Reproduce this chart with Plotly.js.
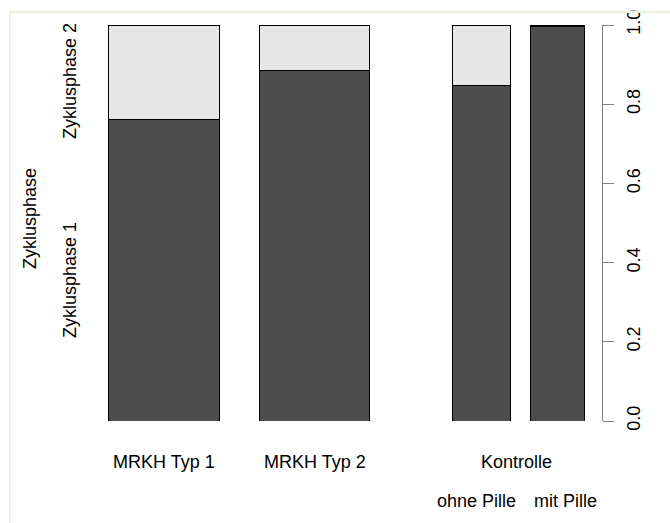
<!DOCTYPE html>
<html>
<head>
<meta charset="utf-8">
<script src="https://cdn.plot.ly/plotly-3.0.1.min.js"></script>
<style>
html,body{margin:0;padding:0;background:#fff;}
#chart{width:670px;height:523px;}
</style>
</head>
<body>
<div id="chart"></div>
<script>
// Data
const groups = ["MRKH Typ 1", "MRKH Typ 2", "ohne Pille", "mit Pille"];
const phase1 = [0.762, 0.884, 0.848, 0.997];   // Zyklusphase 1 share
const phase2 = phase1.map(v => +(1 - v).toFixed(3)); // Zyklusphase 2 share (remainder)
const yTicks = [0, 0.2, 0.4, 0.6, 0.8, 1.0];
const yTickText = ["0.0", "0.2", "0.4", "0.6", "0.8", "1.0"];

// Layout (bar placement in pixel-like x units)
const barCenters = [163.5, 314.5, 481, 557];
const barWidths = [111, 110, 58, 54];

const font = {family: "Liberation Sans, Arial, sans-serif", size: 18, color: "#000"};

const traces = [
  {type: "bar", x: barCenters, y: phase1, width: barWidths, name: "Zyklusphase 1",
   marker: {color: "#4d4d4d", line: {color: "#000", width: 1}}, hoverinfo: "skip"},
  {type: "bar", x: barCenters, y: phase2, width: barWidths, name: "Zyklusphase 2",
   marker: {color: "#e6e6e6", line: {color: "#000", width: 1}}, hoverinfo: "skip"}
];

const H = 523, T = 25, B = 102, PH = H - T - B;
function py(px) { return (H - B - px) / PH; }

const layout = {
  width: 670, height: 523,
  margin: {l: 0, r: 0, t: T, b: B, pad: 0},
  paper_bgcolor: "#fff", plot_bgcolor: "#fff",
  barmode: "stack", showlegend: false,
  font: font,
  xaxis: {range: [0, 670], visible: false, fixedrange: true},
  yaxis: {range: [0, 1], side: "right", anchor: "free", position: 602/670,
    tickvals: yTicks, ticktext: yTickText, tickangle: -90,
    ticks: "outside", ticklen: 11, tickcolor: "#7f7f7f", tickwidth: 1,
    showline: true, linecolor: "#7f7f7f", linewidth: 1,
    showgrid: false, zeroline: false, tickfont: font, ticklabelstandoff: 4},
  annotations: [
    {text: "Zyklusphase 2", xref: "x", yref: "paper", x: 70, y: py(81), textangle: -90, showarrow: false, font: font, xanchor: "center", yanchor: "middle"},
    {text: "Zyklusphase 1", xref: "x", yref: "paper", x: 70, y: py(280), textangle: -90, showarrow: false, font: font, xanchor: "center", yanchor: "middle"},
    {text: "Zyklusphase", xref: "x", yref: "paper", x: 30, y: py(219), textangle: -90, showarrow: false, font: font, xanchor: "center", yanchor: "middle"},
    {text: groups[0], xref: "x", yref: "paper", x: barCenters[0], y: py(462), showarrow: false, font: font, yanchor: "middle"},
    {text: groups[1], xref: "x", yref: "paper", x: barCenters[1], y: py(462), showarrow: false, font: font, yanchor: "middle"},
    {text: "Kontrolle", xref: "x", yref: "paper", x: 516, y: py(462), showarrow: false, font: font, yanchor: "middle"},
    {text: groups[2], xref: "x", yref: "paper", x: 476, y: py(501), showarrow: false, font: font, yanchor: "middle"},
    {text: groups[3], xref: "x", yref: "paper", x: 565, y: py(501), showarrow: false, font: font, yanchor: "middle"}
  ],
  shapes: [
    {type: "line", xref: "paper", yref: "paper", x0: 10/670, x1: 1, y0: py(12), y1: py(12), line: {color: "#efefe2", width: 2}},
    {type: "line", xref: "paper", yref: "paper", x0: 10/670, x1: 10/670, y0: py(12), y1: py(523), line: {color: "#efefe2", width: 2}}
  ]
};

Plotly.newPlot("chart", traces, layout, {displayModeBar: false, staticPlot: true});
</script>
</body>
</html>
